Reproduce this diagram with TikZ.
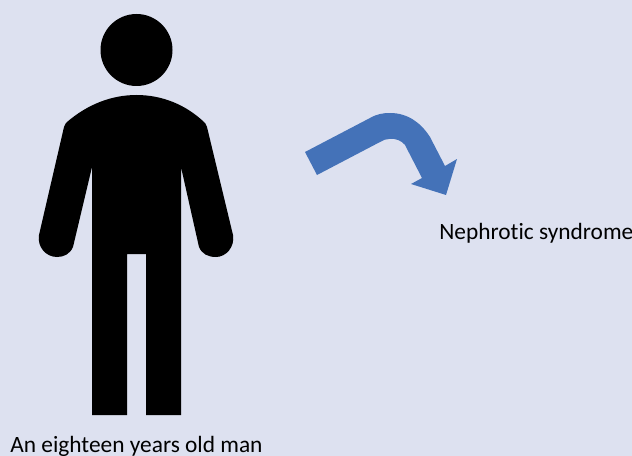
\documentclass[tikz,border=0pt]{standalone}
\usepackage{fontspec}
\setmainfont{Carlito}[Ligatures=CommonOff]
\usepackage{tikz}
\definecolor{backdrop}{RGB}{221,225,240}
\definecolor{arrowblue}{RGB}{68,114,184}

\begin{document}
\begin{tikzpicture}[
  x=0.02cm, y=-0.02cm,
  figure/.style={fill=black},
  curved/.style={fill=arrowblue},
  lbl/.style={font=\fontsize{13.3pt}{16pt}\selectfont, anchor=base west, inner sep=0pt, text=black},
]
% Background (632 x 456)
\fill[backdrop] (0,0) rectangle (632,456);
\useasboundingbox (0,0) rectangle (632,456);

% Head
\fill[figure] (136.5,50) circle [radius=36*0.02cm];

% Body, arms and legs
\fill[figure] (92,167) -- (73,247)
  .. controls (70,254) and (64,257) .. (57,257)
  .. controls (46,257) and (37,247) .. (39,235)
  -- (64,127) .. controls (65,124) and (66,123) .. (67,122)
  .. controls (88,104) and (112,95) .. (136.5,95)
  .. controls (161,95) and (185,104) .. (204,122)
  .. controls (205,123) and (206,124) .. (207,127)
  -- (233,235)
  .. controls (235,247) and (226,257) .. (216,257)
  .. controls (208,257) and (202,254) .. (199,247)
  -- (181,167) -- (181,415) -- (146,415) -- (146,254)
  -- (127,254) -- (127,415) -- (92,415) -- cycle;

% Curved arrow
\fill[curved] (305,152) -- (370,118)
  .. controls (377,114) and (383,113) .. (390,113)
  .. controls (408,113) and (421,123) .. (430,137)
  -- (445,166) -- (457,159) -- (446,195) -- (411,184) -- (422,178)
  -- (405,145)
  .. controls (402,141) and (396,138) .. (389,139)
  .. controls (386,139) and (383,140) .. (380,142)
  -- (317,175) -- cycle;

% Labels
\node[lbl] (renal) at (439,239) {Nephrotic syndrome};
\node[lbl] (patient) at (10,452) {An eighteen years old man};
\end{tikzpicture}
\end{document}
